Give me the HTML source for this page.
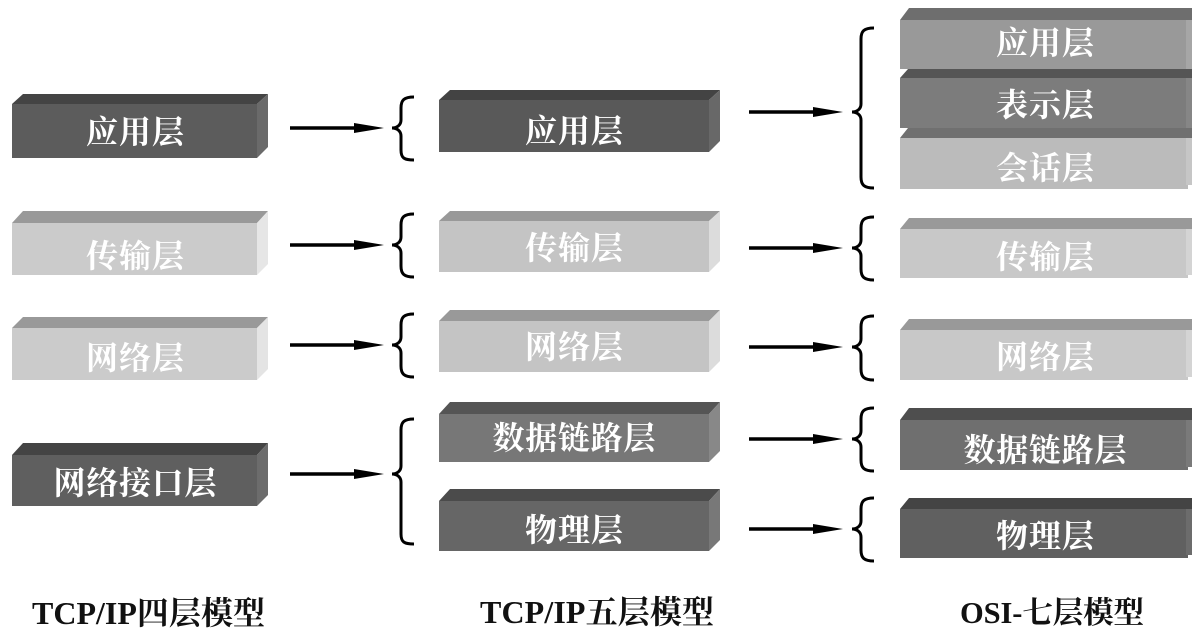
<!DOCTYPE html>
<html>
<head>
<meta charset="utf-8">
<style>
html,body{margin:0;padding:0;background:#fff;width:1192px;height:644px;overflow:hidden}
svg{display:block}
.t{font-family:"Liberation Serif","Noto Serif CJK SC",serif;font-size:32px;font-weight:700;fill:#fff;text-anchor:middle}
.l{font-family:"Liberation Serif","Noto Serif CJK SC",serif;font-size:32px;font-weight:700;fill:#111}
.b{fill:none;stroke:#000;stroke-width:3}
.a{stroke:#000;stroke-width:3.5}
</style>
</head>
<body>
<svg width="1192" height="644" viewBox="0 0 1192 644" xmlns="http://www.w3.org/2000/svg">
<rect width="1192" height="644" fill="#fff"/>

<!-- Column 1 -->
<polygon points="12,104 23,94 268,94 257,104" fill="#444"/><polygon points="257,104 268,94 268,147 257,158" fill="#6a6a6a"/><rect x="12" y="104" width="245" height="54" fill="#5c5c5c"/>
<text class="t" x="135" y="143" textLength="98">应用层</text>
<polygon points="12,223 23,211 268,211 257,223" fill="#999"/><polygon points="257,223 268,211 268,264 257,275" fill="#e6e6e6"/><rect x="12" y="223" width="245" height="52" fill="#cbcbcb"/>
<text class="t" x="135" y="267" textLength="98">传输层</text>
<polygon points="12,328 23,317 268,317 257,328" fill="#999"/><polygon points="257,328 268,317 268,369 257,380" fill="#e4e4e4"/><rect x="12" y="328" width="245" height="52" fill="#cbcbcb"/>
<text class="t" x="135" y="369" textLength="98">网络层</text>
<polygon points="12,455 23,443 268,443 257,455" fill="#444"/><polygon points="257,455 268,443 268,495 257,506" fill="#6c6c6c"/><rect x="12" y="455" width="245" height="51" fill="#5f5f5f"/>
<text class="t" x="135" y="494" textLength="163">网络接口层</text>

<!-- Column 2 -->
<polygon points="439,100 450,90 720,90 709,100" fill="#434343"/><polygon points="709,100 720,90 720,141 709,152" fill="#686868"/><rect x="439" y="100" width="270" height="52" fill="#595959"/>
<text class="t" x="574" y="142" textLength="98">应用层</text>
<polygon points="439,221 450,211 720,211 709,221" fill="#999"/><polygon points="709,221 720,211 720,261 709,272" fill="#dcdcdc"/><rect x="439" y="221" width="270" height="51" fill="#c4c4c4"/>
<text class="t" x="574" y="259" textLength="98">传输层</text>
<polygon points="439,321 450,310 720,310 709,321" fill="#999"/><polygon points="709,321 720,310 720,361 709,372" fill="#dcdcdc"/><rect x="439" y="321" width="270" height="51" fill="#c4c4c4"/>
<text class="t" x="574" y="358" textLength="98">网络层</text>
<polygon points="439,414 450,402 720,402 709,414" fill="#555"/><polygon points="709,414 720,402 720,451 709,462" fill="#888"/><rect x="439" y="414" width="270" height="48" fill="#777"/>
<text class="t" x="574" y="449" textLength="163">数据链路层</text>
<polygon points="439,501 450,489 720,489 709,501" fill="#4b4b4b"/><polygon points="709,501 720,489 720,540 709,551" fill="#787878"/><rect x="439" y="501" width="270" height="50" fill="#666"/>
<text class="t" x="574" y="541" textLength="98">物理层</text>

<!-- Column 3 -->
<polygon points="900,20 909,8 1192,8 1192,20" fill="#6e6e6e"/><rect x="900" y="20" width="292" height="49" fill="#999"/><rect x="1186" y="20" width="6" height="49" fill="#a6a6a6"/>
<polygon points="900,78 908,69 1192,69 1192,78" fill="#555"/><rect x="900" y="78" width="292" height="50" fill="#7c7c7c"/><rect x="1186" y="78" width="6" height="50" fill="#868686"/>
<polygon points="900,138 908,128 1192,128 1192,138" fill="#707070"/><rect x="900" y="138" width="288" height="51" fill="#bbb"/><rect x="1186" y="138" width="6" height="47" fill="#c6c6c6"/>
<text class="t" x="1045" y="54" textLength="98">应用层</text>
<text class="t" x="1045" y="116" textLength="98">表示层</text>
<text class="t" x="1045" y="179" textLength="98">会话层</text>
<polygon points="900,229 909,218 1192,218 1192,229" fill="#999"/><rect x="900" y="229" width="288" height="49" fill="#c8c8c8"/><rect x="1186" y="229" width="6" height="46" fill="#d4d4d4"/>
<text class="t" x="1045" y="268" textLength="98">传输层</text>
<polygon points="900,330 909,319 1192,319 1192,330" fill="#999"/><rect x="900" y="330" width="288" height="50" fill="#c8c8c8"/><rect x="1186" y="330" width="6" height="47" fill="#d4d4d4"/>
<text class="t" x="1045" y="368" textLength="98">网络层</text>
<polygon points="900,420 909,408 1192,408 1192,420" fill="#4e4e4e"/><rect x="900" y="420" width="288" height="50" fill="#6f6f6f"/><rect x="1186" y="420" width="6" height="47" fill="#7a7a7a"/>
<text class="t" x="1045" y="461" textLength="163">数据链路层</text>
<polygon points="900,509 909,498 1192,498 1192,509" fill="#444"/><rect x="900" y="509" width="288" height="49" fill="#606060"/><rect x="1186" y="509" width="6" height="46" fill="#6c6c6c"/>
<text class="t" x="1045" y="547" textLength="98">物理层</text>

<!-- Arrows -->
<line class="a" x1="290" y1="128" x2="360" y2="128"/><polygon points="354,123 384,128 354,133" fill="#000"/>
<line class="a" x1="290" y1="245" x2="360" y2="245"/><polygon points="354,240 384,245 354,250" fill="#000"/>
<line class="a" x1="290" y1="345" x2="360" y2="345"/><polygon points="354,340 384,345 354,350" fill="#000"/>
<line class="a" x1="290" y1="474" x2="360" y2="474"/><polygon points="354,469 384,474 354,479" fill="#000"/>
<line class="a" x1="749" y1="112" x2="820" y2="112"/><polygon points="813,107 843,112 813,117" fill="#000"/>
<line class="a" x1="749" y1="248" x2="820" y2="248"/><polygon points="813,243 843,248 813,253" fill="#000"/>
<line class="a" x1="749" y1="347" x2="820" y2="347"/><polygon points="813,342 843,347 813,352" fill="#000"/>
<line class="a" x1="749" y1="439" x2="820" y2="439"/><polygon points="813,434 843,439 813,444" fill="#000"/>
<line class="a" x1="749" y1="529" x2="820" y2="529"/><polygon points="813,524 843,529 813,534" fill="#000"/>

<!-- Braces -->
<path class="b" d="M414,97 C404,97 401,100 401,108 V120 C401,125 397,128 392,128 C397,128 401,131 401,136 V150 C401,158 404,160 414,160"/>
<path class="b" d="M414,214 C404,214 401,217 401,225 V237 C401,242 397,245 392,245 C397,245 401,248 401,253 V266 C401,274 404,277 414,277"/>
<path class="b" d="M414,314 C404,314 401,317 401,325 V337 C401,342 397,345 392,345 C397,345 401,348 401,353 V366 C401,374 404,377 414,377"/>
<path class="b" d="M414,419 C404,419 401,422 401,430 V466 C401,471 397,474 392,474 C397,474 401,477 401,482 V534 C401,542 404,544 414,544"/>
<path class="b" d="M874,28 C864,28 861,31 861,39 V104 C861,109 857,112 852,112 C857,112 861,115 861,120 V177 C861,185 864,188 874,188"/>
<path class="b" d="M874,217 C864,217 861,220 861,228 V240 C861,245 857,248 852,248 C857,248 861,251 861,256 V269 C861,277 864,280 874,280"/>
<path class="b" d="M874,316 C864,316 861,319 861,327 V339 C861,344 857,347 852,347 C857,347 861,350 861,355 V369 C861,377 864,380 874,380"/>
<path class="b" d="M874,408 C864,408 861,411 861,419 V431 C861,436 857,439 852,439 C857,439 861,442 861,447 V460 C861,468 864,471 874,471"/>
<path class="b" d="M874,498 C864,498 861,501 861,509 V521 C861,526 857,529 852,529 C857,529 861,532 861,537 V550 C861,558 864,561 874,561"/>

<!-- Captions -->
<text class="l" x="32" y="624" textLength="233">TCP/IP四层模型</text>
<text class="l" x="480" y="623" textLength="234">TCP/IP五层模型</text>
<text class="l" x="960" y="623" style="font-size:30.5px" textLength="184">OSI-七层模型</text>
</svg>
</body>
</html>
